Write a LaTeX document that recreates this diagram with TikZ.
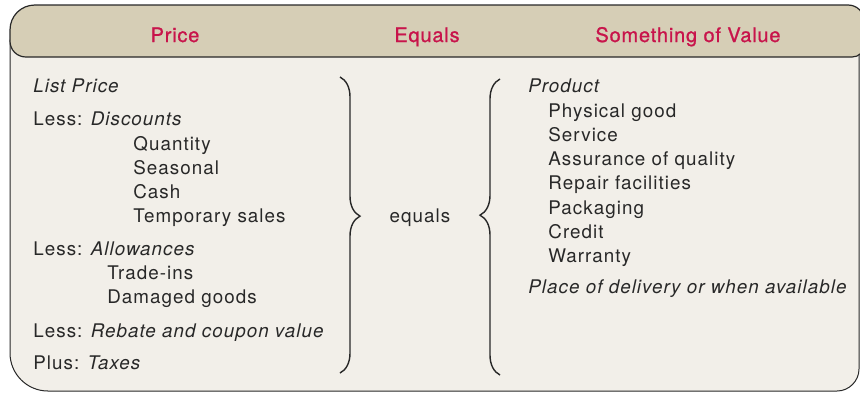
\documentclass[tikz,border=0pt]{standalone}
\usepackage{fontspec}
\setmainfont[LetterSpace=5.5]{TeX Gyre Heros}
\newfontfamily\headfont[LetterSpace=4,FakeBold=1]{TeX Gyre Heros}
\usepackage{tikz}
\usetikzlibrary{decorations.pathreplacing}
\definecolor{headtan}{RGB}{214,206,182}
\definecolor{bodycream}{RGB}{242,239,233}
\definecolor{headred}{RGB}{200,20,75}
\definecolor{inkgray}{RGB}{40,40,40}
\tikzset{
  head/.style={anchor=base,inner sep=0pt,text=headred,font=\headfont\fontsize{10}{12}\selectfont},
  entry/.style={anchor=base west,inner sep=0pt,text=inkgray,font=\fontsize{9.4}{11}\selectfont},
  bigbrace/.style={draw=inkgray,line width=0.7pt,decorate,decoration={brace,amplitude=10pt,aspect=0.47}}
}

\begin{document}
\begin{tikzpicture}[x=0.5pt,y=-0.5pt]
  \useasboundingbox (0,0) rectangle (860,392);

  % body panel
  \filldraw[fill=bodycream,draw=inkgray,line width=0.5pt]
    (10,40) -- (10,353) .. controls (10,374) and (27,391) .. (48,391)
    -- (837,391) .. controls (849,391) and (859,381) .. (859,369) -- (859,40) -- cycle;

  % header band
  \filldraw[fill=headtan,draw=inkgray,line width=0.6pt]
    (10,30) .. controls (10,16) and (21,5) .. (35,5)
    -- (848,5) .. controls (857,5) and (864,12) .. (864,21)
    -- (864,45) .. controls (864,52) and (859,57) .. (852,57)
    -- (26,57) .. controls (17,57) and (10,50) .. (10,41) -- cycle;

  % column heads
  \node[head] (hprice) at (175,42) {Price};
  \node[head] (hequals) at (427,42) {Equals};
  \node[head] (hvalue) at (688,42) {Something of Value};

  % price side
  \node[entry] (list) at (33,92) {\textit{List Price}};
  \node[entry] (disc) at (33,125) {Less: \textit{Discounts}};
  \foreach \t [count=\i] in {Quantity,Seasonal,Cash,Temporary sales}
    \node[entry] (disc\i) at (133,{126+24*\i}) {\t};
  \node[entry] (allow) at (33,255) {Less: \textit{Allowances}};
  \foreach \t [count=\i] in {Trade-ins,Damaged goods}
    \node[entry] (allow\i) at (107,{255+24*\i}) {\t};
  \node[entry] (rebate) at (33,337) {Less: \textit{Rebate and coupon value}};
  \node[entry] (taxes) at (33,369) {Plus: \textit{Taxes}};

  % middle
  \node[entry,anchor=base] (equals) at (420,222) {equals};

  % value side
  \node[entry] (product) at (528,92) {\textit{Product}};
  \foreach \t [count=\i] in {Physical good,Service,Assurance of quality,Repair facilities,Packaging,Credit,Warranty}
    \node[entry] (prod\i) at (548,{93+24.2*\i}) {\t};
  \node[entry] (place) at (528,293) {\textit{Place of delivery or when available}};

  % braces
  \coordinate (lbtop) at (340,77);
  \coordinate (lbbot) at (340,373);
  \coordinate (rbtop) at (500,79);
  \coordinate (rbbot) at (500,375);
  \draw[bigbrace] (lbtop) -- (lbbot);
  \draw[bigbrace,decoration={aspect=0.54}] (rbbot) -- (rbtop);
\end{tikzpicture}
\end{document}
